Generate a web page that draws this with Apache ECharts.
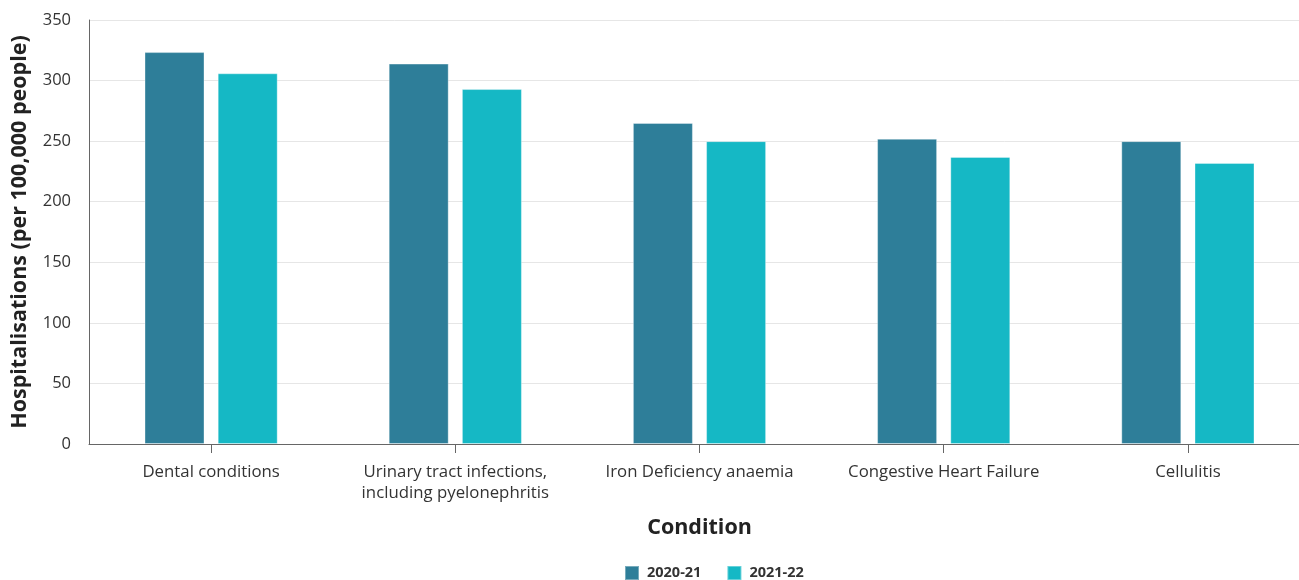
<!DOCTYPE html>
<html>
<head>
<meta charset="utf-8">
<script src="https://cdn.jsdelivr.net/npm/echarts@6/dist/echarts.min.js"></script>
<style>
  html, body { margin: 0; padding: 0; background: #fff; overflow: hidden; }
  #chart { width: 1310px; height: 580px; }
</style>
</head>
<body>
<div id="chart"></div>
<script>
// Potentially preventable hospitalisations by condition
const conditions = [
  'Dental conditions',
  'Urinary tract infections,\nincluding pyelonephritis',
  'Iron Deficiency anaemia',
  'Congestive Heart Failure',
  'Cellulitis'
];
const years = ['2020-21', '2021-22'];
const rate2020 = [323.5, 314, 265, 252, 250];
const rate2021 = [306, 293, 250, 237, 232];
const seriesColors = ['#2e7e99', '#15b8c5'];

const FONT = '"Open Sans", "Noto Sans", sans-serif';

const chart = echarts.init(document.getElementById('chart'), null, { renderer: 'canvas' });

chart.setOption({
  animation: false,
  textStyle: { fontFamily: FONT },
  grid: { left: 89, right: 0, top: 20, bottom: 136, containLabel: false },
  legend: {
    data: years,
    left: 624,
    top: 565,
    itemWidth: 14,
    itemHeight: 14,
    itemGap: 25,
    icon: 'rect',
    padding: 0,
    textStyle: { fontFamily: FONT, fontSize: 14.5, fontWeight: 'bold', color: '#333', padding: [0, 0, 0, 3] }
  },
  xAxis: {
    type: 'category',
    data: conditions,
    name: 'Condition',
    nameLocation: 'middle',
    nameGap: 73,
    nameTextStyle: { fontFamily: FONT, fontSize: 21.5, fontWeight: 'bold', color: '#222' },
    axisLine: { lineStyle: { color: '#666', width: 1 } },
    axisTick: { show: true, alignWithLabel: true, interval: 0, length: 9, lineStyle: { color: '#666' } },
    axisLabel: { interval: 0, hideOverlap: false, fontFamily: FONT, fontSize: 16.8, color: '#333', margin: 18, lineHeight: 21 }
  },
  yAxis: {
    type: 'value',
    min: 0,
    max: 350,
    interval: 50,
    name: 'Hospitalisations (per 100,000 people)',
    nameLocation: 'middle',
    nameGap: 58,
    nameTextStyle: { fontFamily: FONT, fontSize: 21.5, fontWeight: 'bold', color: '#222' },
    axisLine: { show: true, lineStyle: { color: '#666', width: 1 } },
    axisTick: { show: false },
    axisLabel: { fontFamily: FONT, fontSize: 16.5, color: '#333', margin: 18 },
    splitLine: { lineStyle: { color: '#e6e6e6', width: 1 } }
  },
  series: [
    {
      name: years[0],
      type: 'bar',
      data: rate2020,
      barWidth: 60,
      barGap: '22%',
      itemStyle: { color: seriesColors[0], borderColor: 'rgba(255,255,255,0.35)', borderWidth: 1 }
    },
    {
      name: years[1],
      type: 'bar',
      data: rate2021,
      barWidth: 60,
      itemStyle: { color: seriesColors[1], borderColor: 'rgba(255,255,255,0.35)', borderWidth: 1 }
    }
  ]
});
</script>
</body>
</html>
